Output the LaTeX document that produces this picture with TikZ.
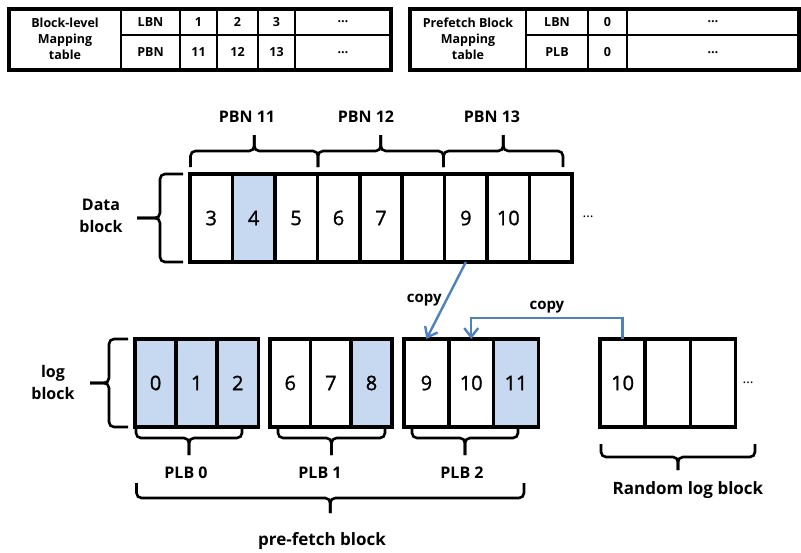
\documentclass[tikz,border=0pt]{standalone}
\usepackage{fontspec}
\setmainfont{Open Sans}
\newfontfamily\cellfont{Open Sans}[FakeBold=1.2]
\usetikzlibrary{arrows.meta,positioning}

\definecolor{cellblue}{RGB}{198,217,240}
\definecolor{copyblue}{RGB}{79,129,189}

% square braces: ends, line, tip
\newcommand{\hbrace}[5]{%
  \draw[brc] (#1,#3) -- (#1,#4) -- ({(#1+#2)/2},#4) -- ({(#1+#2)/2},#5);
  \draw[brc] (#2,#3) -- (#2,#4) -- ({(#1+#2)/2},#4) -- ({(#1+#2)/2},#5);}
\newcommand{\vbrace}[5]{%
  \draw[brc] (#3,#1) -- (#4,#1) -- (#4,{(#1+#2)/2}) -- (#5,{(#1+#2)/2});
  \draw[brc] (#3,#2) -- (#4,#2) -- (#4,{(#1+#2)/2}) -- (#5,{(#1+#2)/2});}

\begin{document}
\begin{tikzpicture}[x=1pt,y=-1pt,
    tcell/.style={draw, line width=2.6pt, inner sep=0pt, outer sep=0pt, align=center,
        font=\bfseries\fontsize{12.5}{16}\selectfont},
    cell/.style={draw, line width=3.6pt, inner sep=0pt, outer sep=0pt,
        minimum height=88pt, font=\cellfont\fontsize{20}{24}\selectfont},
    used/.style={fill=cellblue},
    lbl/.style={align=center, font=\bfseries\fontsize{16}{22}\selectfont},
    brc/.style={line width=2.6pt, rounded corners=5pt},
    copyline/.style={draw=copyblue, line width=2.4pt,
        -{Straight Barb[length=9pt,width=14pt]}}]
  \useasboundingbox (0,0) rectangle (801,552);

  % block-level mapping table
  \node[tcell, minimum width=112pt, minimum height=61pt] (bt) at (65,39) {Block-level\\Mapping\\table};
  \node[tcell, minimum width=59pt, minimum height=26.5pt] (bl) at (150.5,21.75) {LBN};
  \node[tcell, minimum width=59pt, minimum height=34.5pt] (bp) at (150.5,52.25) {PBN};
  \foreach \x/\w/\a/\b [count=\i] in {198.5/37/1/11, 237.5/41/2/12, 276.5/37/3/13, 343/96/\dots/\dots}{
    \node[tcell, minimum width=\w pt, minimum height=26.5pt] (bl\i) at (\x,21.75) {\a};
    \node[tcell, minimum width=\w pt, minimum height=34.5pt] (bp\i) at (\x,52.25) {\b};
  }
  \draw[line width=4pt] (bt.north west) rectangle (bp4.south east);

  % prefetch block mapping table
  \node[tcell, minimum width=116pt, minimum height=61pt] (pt) at (468,39) {Prefetch Block\\Mapping\\table};
  \node[tcell, minimum width=62pt, minimum height=26.5pt] (pl) at (557,21.75) {LBN};
  \node[tcell, minimum width=62pt, minimum height=34.5pt] (pp) at (557,52.25) {PLB};
  \foreach \x/\w/\a [count=\i] in {607.5/39/0, 713/172/\dots}{
    \node[tcell, minimum width=\w pt, minimum height=26.5pt] (pl\i) at (\x,21.75) {\a};
    \node[tcell, minimum width=\w pt, minimum height=34.5pt] (pp\i) at (\x,52.25) {\a};
  }
  \draw[line width=4pt] (pt.north west) rectangle (pp2.south east);

  % data block
  \foreach \v/\c [count=\i] in {3/white,4/cellblue,5/white,6/white,7/white,{}/white,9/white,10/white,{}/white}
    \node[cell, fill=\c, minimum width=42.44pt] (d\i) at ({190+42.44*(\i-0.5)},218) {\v};
  \node[font=\fontsize{14}{16}\selectfont] (ddots) at (588,217) {\dots};

  \hbrace{190.5}{318}{167}{151}{135}
  \hbrace{318}{443.5}{167}{151}{135}
  \hbrace{443.5}{563}{167}{151}{135}
  \node[lbl] (pbn11) at (247,117) {PBN 11};
  \node[lbl] (pbn12) at (366,117) {PBN 12};
  \node[lbl] (pbn13) at (492,117) {PBN 13};

  \vbrace{174}{262}{183}{160}{137}
  \node[lbl] (data) at (101,216) {Data\\block};

  % log blocks
  \node[cell, used, minimum width=41.1pt] (l1) at (155.6,383) {0};
  \node[cell, used, minimum width=41.1pt, right=0pt of l1] (l2) {1};
  \node[cell, used, minimum width=41.1pt, right=0pt of l2] (l3) {2};

  \node[cell, minimum width=40.6pt] (m1) at (290.3,383) {6};
  \node[cell, minimum width=40.6pt, right=0pt of m1] (m2) {7};
  \node[cell, used, minimum width=40.6pt, right=0pt of m2] (m3) {8};

  \node[cell, minimum width=44.8pt] (q1) at (426.4,383) {9};
  \node[cell, minimum width=44.8pt, right=0pt of q1] (q2) {10};
  \node[cell, used, minimum width=44.8pt, right=0pt of q2] (q3) {11};

  \node[cell, minimum width=45.2pt] (r1) at (622.6,383) {10};
  \node[cell, minimum width=45.2pt, right=0pt of r1] (r2) {};
  \node[cell, minimum width=45.2pt, right=0pt of r2] (r3) {};
  \node[font=\fontsize{14}{16}\selectfont] (rdots) at (748,383) {\dots};

  \vbrace{339}{427}{128}{109}{90}
  \node[lbl] (log) at (53,382) {log\\block};

  \hbrace{136}{242}{429}{438}{455}
  \hbrace{278}{385}{429}{438}{455}
  \hbrace{412}{518}{429}{438}{455}
  \node[lbl] (plb0) at (186,473) {PLB 0};
  \node[lbl] (plb1) at (320,473) {PLB 1};
  \node[lbl] (plb2) at (462,473) {PLB 2};

  \hbrace{601}{755}{444}{457}{470}
  \node[lbl, font=\bfseries\fontsize{17}{22}\selectfont] (rand) at (688,490) {Random log block};

  \hbrace{136.5}{524}{483}{498}{513}
  \node[lbl, font=\bfseries\fontsize{17}{22}\selectfont] (pre) at (322,541) {pre-fetch block};

  % copies
  \draw[copyline] (d7.south) -- node[left, lbl, font=\bfseries\fontsize{15}{18}\selectfont] {copy} (q1.north);
  \draw[copyline] (r1.north) -- ++(0,-21) -| node[pos=.25, above, lbl, font=\bfseries\fontsize{15}{18}\selectfont] {copy} (q2.north);
\end{tikzpicture}
\end{document}
